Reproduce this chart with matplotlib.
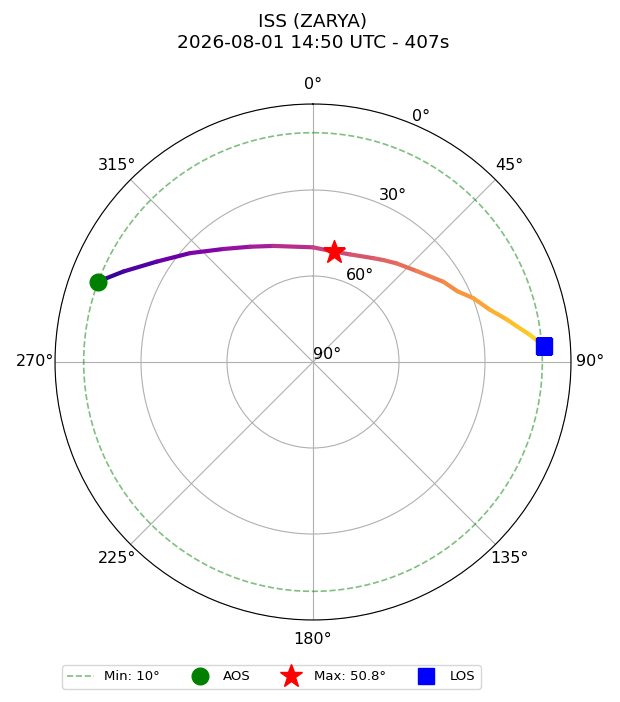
import numpy as np
import matplotlib
matplotlib.use("Agg")
from matplotlib import pyplot as plt
from matplotlib.collections import LineCollection

sat_name = "ISS (ZARYA)"
pass_start = "2026-08-01 14:50 UTC"
duration_s = 407
min_elev = 10
max_elev = 50.8

# track (azimuth deg, elevation deg)
track_az = [290.5, 295.5, 302.7, 311.5, 321.6, 331.4, 341.1, 0.0, 11.0, 19.0,
            30.2, 34.6, 40.3, 48.7, 58.4, 63.9, 68.3, 73.6, 77.6, 80.0, 82.9, 86.1]
track_el = [9.9, 16.7, 25.2, 32.7, 39.7, 44.2, 47.2, 50.0, 50.8, 50.3,
            48.1, 46.8, 44.9, 41.9, 36.6, 33.9, 29.8, 25.6, 20.8, 17.9, 13.7, 9.2]

aos_az, aos_el = 290.5, 9.9
max_az = 11.0
los_az, los_el = 86.1, 9.2

r_ticks = [0, 30, 60, 90]
r_labels = ["90°", "60°", "30°", "0°"]

fig = plt.figure(figsize=(6.2, 7.02), dpi=100)
ax = fig.add_axes([55 / 620, 82 / 702, 516 / 620, 516 / 702], projection="polar")
ax.set_theta_zero_location("N")
ax.set_theta_direction(-1)
ax.set_ylim(0, 90)
ax.set_yticks(r_ticks)
ax.set_yticklabels(r_labels, fontsize=11.5)
ax.tick_params(axis="x", labelsize=11.5)

# unwrap so the line does not run the long way round through 360 -> 0
theta = np.unwrap(np.radians(track_az))
r = 90 - np.array(track_el)

# colour by (approximate) progress along the pass
xy = np.column_stack([r * np.sin(theta), r * np.cos(theta)])
seg_len = np.hypot(*np.diff(xy, axis=0).T)
prog = np.concatenate([[0], np.cumsum(seg_len)])
prog = prog / prog[-1]
pts = np.column_stack([theta, r]).reshape(-1, 1, 2)
segs = np.concatenate([pts[:-1], pts[1:]], axis=1)
lc = LineCollection(segs, cmap="plasma", linewidths=3, zorder=3)
lc.set_array(0.05 + 0.88 * (prog[:-1] + prog[1:]) / 2)
lc.set_norm(plt.Normalize(0, 1))
lc.set_capstyle("round")
ax.add_collection(lc)

circ = np.linspace(0, 2 * np.pi, 361)
ax.plot(circ, np.full_like(circ, 90 - min_elev), "--", color="green", alpha=0.5, lw=1.2,
        label=f"Min: {min_elev}°")
ax.plot(np.radians(aos_az), 90 - aos_el, "o", color="green", markersize=12, zorder=5, label="AOS")
ax.plot(np.radians(max_az), 90 - max_elev, "*", color="red", markersize=17, zorder=5,
        label=f"Max: {max_elev}°")
ax.plot(np.radians(los_az), 90 - los_el, "s", color="blue", markersize=12, zorder=5, label="LOS")

ax.set_title(f"{sat_name}\n{pass_start} - {duration_s}s", fontsize=13.3, pad=21)

ax.legend(loc="upper left", bbox_to_anchor=(62 / 620, 1 - 665 / 702),
          bbox_transform=fig.transFigure, borderaxespad=0, ncol=4, fontsize=9.5)

fig.savefig("out.png", dpi=100)
